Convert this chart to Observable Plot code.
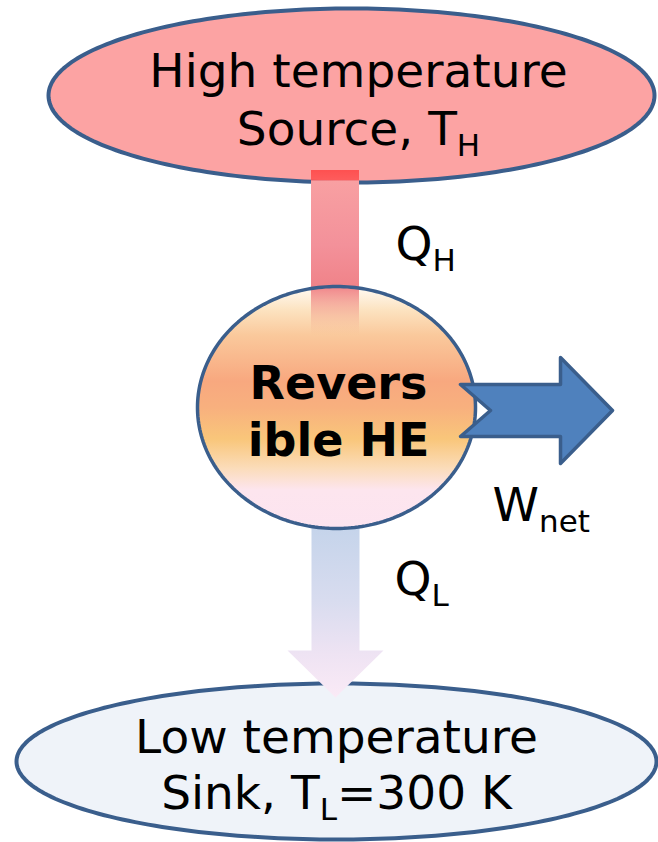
<!DOCTYPE html>
<html><head><meta charset="utf-8">
<script src="https://cdn.jsdelivr.net/npm/d3@7"></script>
<script src="https://cdn.jsdelivr.net/npm/@observablehq/plot@0.6"></script>
<style>html,body{margin:0;padding:0;background:#fff;} #chart svg{display:block}</style>
</head><body><div id="chart"></div>
<script>
// ---- Data (labels of the diagram) ----
const sourceLines = ["High temperature", "Source, T_{H}"];
const engineLines = ["Revers", "ible HE"];
const sinkLines = ["Low temperature", "Sink, T_{L}=300 K"];
const flowLabels = ["Q_{H}", "W_{net}", "Q_{L}"];

// ---- Layout (positions / sizes) ----
const W = 658, H = 842;
const source = {cx: 351, cy: 95, rx: 303, ry: 87};
const engine = {cx: 336, cy: 407, rx: 139, ry: 121};
const sink = {cx: 336, cy: 761, rx: 320, ry: 78};
const hotPipe = {x1: 311, x2: 359, y1: 170, y2: 336};
const coldArrow = {x1: 311, x2: 359, y1: 520, yHead: 650, hx1: 287, hx2: 383, tip: 697};
const workArrow = {tail: 460, notch: 490, headBase: 560, tip: 612, cy: 410, shaft: 26, head: 53};
const sourceText = {x: 358, y: [86, 144]};
const engineText = {x: 338, y: [398, 455]};
const sinkText = {x: 336, y: [752, 808]};
const flowPos = [{x: 395, y: 259}, {x: 492, y: 520}, {x: 394, y: 594}];
const STROKE = "#3A5E8C";
const FS = 47, SUB_FS = 31, SUB_SHIFT = 11;

function ellipse(s, n = 240) {
  return d3.range(n).map(i => {
    const t = 2 * Math.PI * i / n;
    return {x: s.cx + s.rx * Math.cos(t), y: s.cy + s.ry * Math.sin(t)};
  });
}
const coldPts = [
  [coldArrow.x1, coldArrow.y1], [coldArrow.x2, coldArrow.y1], [coldArrow.x2, coldArrow.yHead],
  [coldArrow.hx2, coldArrow.yHead], [(coldArrow.hx1 + coldArrow.hx2) / 2, coldArrow.tip],
  [coldArrow.hx1, coldArrow.yHead], [coldArrow.x1, coldArrow.yHead]
].map(([x, y]) => ({x, y}));
const wa = workArrow;
const workPts = [
  [wa.tail, wa.cy - wa.shaft], [wa.headBase, wa.cy - wa.shaft], [wa.headBase, wa.cy - wa.head],
  [wa.tip, wa.cy], [wa.headBase, wa.cy + wa.head], [wa.headBase, wa.cy + wa.shaft],
  [wa.tail, wa.cy + wa.shaft], [wa.notch, wa.cy]
].map(([x, y]) => ({x, y}));

function defs() {
  const d = d3.create("svg:defs");
  const grad = (id, stops) => {
    const g = d.append("linearGradient").attr("id", id).attr("x1", 0).attr("y1", 0).attr("x2", 0).attr("y2", 1);
    for (const [o, c, op] of stops) g.append("stop").attr("offset", o).attr("stop-color", c).attr("stop-opacity", op ?? 1);
  };
  grad("engineFill", [[0, "#FFFBF4"], [0.1, "#FCE2BF"], [0.2, "#FAC99C"], [0.39, "#F8A87F"], [0.5, "#F8B07E"],
    [0.63, "#F9C67A"], [0.75, "#FBDCB9"], [0.84, "#FDE5EE"], [1, "#FCE4F0"]]);
  grad("hotPipe", [[0, "#FF3C3C", 0.8], [0.06, "#FF4A4A", 0.8], [0.065, "#F8A0A2"], [0.45, "#F3919A"],
    [0.7, "#F08389"], [0.85, "#F3A290", 0.6], [1, "#F6B890", 0]]);
  grad("coldArrow", [[0, "#C3D3EA"], [0.45, "#D8DCEF"], [0.75, "#EEE3F3"], [1, "#FAEAF6"]]);
  return d.node();
}

const svg = Plot.plot({
  width: W, height: H, margin: 0,
  x: {domain: [0, W], axis: null},
  y: {domain: [0, H], range: [0, H], axis: null},
  style: {background: "white", fontFamily: "'DejaVu Sans', sans-serif"},
  marks: [
    defs,
    Plot.line(ellipse(source), {x: "x", y: "y", curve: "linear-closed", fill: "#FCA3A3", stroke: STROKE, strokeWidth: 4}),
    Plot.line(ellipse(sink), {x: "x", y: "y", curve: "linear-closed", fill: "#EFF3F9", stroke: STROKE, strokeWidth: 4}),
    Plot.line(coldPts, {x: "x", y: "y", curve: "linear-closed", fill: "url(#coldArrow)", stroke: "none"}),
    Plot.line(ellipse(engine), {x: "x", y: "y", curve: "linear-closed", fill: "url(#engineFill)", stroke: "none"}),
    Plot.rect([hotPipe], {x1: "x1", x2: "x2", y1: "y1", y2: "y2", fill: "url(#hotPipe)"}),
    Plot.line(ellipse(engine), {x: "x", y: "y", curve: "linear-closed", fill: "none", stroke: STROKE, strokeWidth: 3.5}),
    Plot.line(workPts, {x: "x", y: "y", curve: "linear-closed", fill: "#4F81BD", stroke: STROKE, strokeWidth: 3.5}),
    Plot.text(sourceLines, {x: () => sourceText.x, y: (d, i) => sourceText.y[i], text: d => d, fontSize: FS, lineAnchor: "bottom", fill: "black"}),
    Plot.text(engineLines, {x: () => engineText.x, y: (d, i) => engineText.y[i], text: d => d, fontSize: 46, fontWeight: "bold", lineAnchor: "bottom", fill: "black"}),
    Plot.text(sinkLines, {x: () => sinkText.x, y: (d, i) => sinkText.y[i], text: d => d, fontSize: FS, lineAnchor: "bottom", fill: "black"}),
    Plot.text(flowLabels, {x: (d, i) => flowPos[i].x, y: (d, i) => flowPos[i].y, text: d => d, fontSize: FS, textAnchor: "start", lineAnchor: "bottom", fill: "black"})
  ]
});

// turn "_{...}" into real subscript tspans
d3.select(svg).selectAll("text").each(function () {
  const s = this.textContent;
  if (!s.includes("_{")) return;
  const parts = s.split(/(_\{[^}]*\})/).filter(p => p);
  this.textContent = "";
  let shifted = false;
  for (const p of parts) {
    const m = p.match(/^_\{(.*)\}$/);
    const t = d3.select(this).append("tspan");
    if (m) { t.text(m[1]).attr("font-size", SUB_FS).attr("dy", SUB_SHIFT); shifted = true; }
    else { t.text(p); if (shifted) { t.attr("dy", -SUB_SHIFT); shifted = false; } }
  }
});

document.getElementById("chart").append(svg);
</script>
</body></html>
